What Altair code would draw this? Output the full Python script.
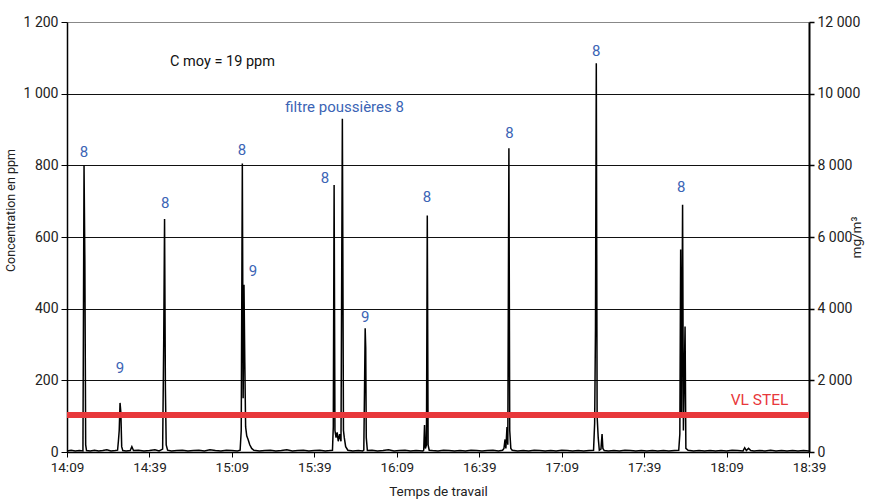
import altair as alt
import pandas as pd

# minutes after 14:09 and concentration in ppm
times = [
    0, 1.5, 3, 4.5, 5.8, 6.2, 6.5, 6.8, 7.1, 8.5, 10, 11.5, 13, 14.5, 16, 17.5,
    18.4, 18.7, 19.0, 19.3, 19.6, 19.9, 20.3, 21.5, 23, 23.6, 24.2, 26, 28, 30, 32, 33.5,
    34.8, 35.2, 35.5, 35.8, 36.1, 36.6, 38, 40, 42, 44, 46, 48, 50, 52, 54, 56, 58, 60, 62,
    63.0, 63.4, 63.8, 64.1, 64.4, 64.7, 65.0, 65.4, 65.9, 66.5, 67.2, 68, 70, 72, 74, 76, 78,
    80, 82, 84, 86, 88, 90, 92, 94, 95.5,
    96.6, 96.9, 97.2, 97.5, 97.9, 98.3, 98.7, 99.2, 99.7, 100.2, 100.6, 100.9, 101.4, 102.2,
    104, 106, 107.6,
    108.0, 108.3, 108.5, 108.7, 108.9, 109.3, 111, 113, 115, 117, 119, 121, 123, 125, 127, 129.5,
    129.8, 130.1, 130.4, 130.8, 131.1, 131.4, 131.8, 133, 135, 137, 139, 141, 143, 145, 147,
    149, 151, 153, 155, 157, 158.5,
    159.0, 159.4, 159.7, 160.1, 160.4, 160.8, 161.1, 161.5, 162, 164, 166, 168, 170, 172, 174,
    176, 178, 180, 182, 184, 186, 188, 190, 191.6,
    192.0, 192.3, 192.6, 192.9, 193.3, 193.7, 194.3, 194.7, 195.0, 195.5, 197, 199, 201, 203,
    205, 207, 209, 211, 213, 215, 217, 219, 221, 222.6,
    223.0, 223.3, 223.6, 224.0, 224.3, 224.9, 225.2, 226, 228, 230, 232, 234, 236, 238, 240,
    242, 244, 246, 246.6, 247.2, 248, 248.8, 250, 252, 254, 256, 258, 260, 262, 264, 266, 268, 270,
]
ppm = [
    3, 5, 3, 4, 3, 800, 530, 20, 4, 3, 5, 3, 4, 6, 3, 4,
    5, 30, 60, 137, 110, 15, 4, 3, 4, 15, 4, 5, 3, 4, 6, 3,
    8, 315, 650, 180, 20, 5, 3, 4, 5, 3, 4, 5, 3, 6, 4, 3, 5, 4, 3,
    5, 60, 805, 150, 467, 250, 70, 45, 35, 20, 10, 5, 3, 4, 5, 3, 4,
    6, 3, 4, 5, 3, 4, 5, 3, 4,
    5, 70, 745, 60, 40, 55, 30, 50, 30, 930, 60, 40, 15, 5,
    3, 4, 3,
    5, 200, 345, 290, 40, 4, 5, 3, 4, 6, 3, 4, 5, 3, 4, 3,
    5, 75, 10, 20, 660, 20, 5, 4, 3, 5, 4, 3, 4, 3, 5,
    4, 3, 4, 5, 3, 5,
    10, 35, 10, 70, 20, 848, 60, 10, 5, 3, 4, 3, 5, 4, 3,
    4, 3, 5, 4, 3, 4, 3, 4, 5,
    80, 340, 1085, 100, 40, 5, 8, 50, 10, 4, 3, 4, 3, 5,
    4, 3, 4, 3, 4, 3, 4, 3, 4, 5,
    50, 565, 100, 690, 60, 350, 10, 5, 3, 4, 3, 4, 3, 4, 3,
    5, 4, 3, 12, 4, 10, 4, 3, 4, 3, 5, 3, 4, 3, 4, 3, 4, 3,
]

label_text = ["8", "9", "8", "8", "9", "8", "filtre poussières 8", "9", "8", "8", "8", "8"]
label_x = [6.2, 19.3, 35.7, 63.7, 67.7, 93.9, 101.0, 108.5, 131.0, 161.0, 192.6, 223.5]
label_y = [837, 234, 695, 843, 505, 765, 963, 377, 712, 890, 1119, 740]

vl_stel = 103
right_ticks = [0, 2000, 4000, 6000, 8000, 10000, 12000]

FONT = "Roboto"
BLUE = "#3b64b5"
RED = "#e8383b"

series = pd.DataFrame({"t": times, "ppm": ppm})
labels = pd.DataFrame({"t": label_x, "y": label_y, "txt": label_text})

x_scale = alt.Scale(domain=[0, 270], nice=False, zero=False)
y_scale = alt.Scale(domain=[0, 1200], nice=False)

x_axis = alt.Axis(
    values=list(range(0, 271, 30)),
    labelExpr="floor((849 + datum.value) / 60) + ':' + format((849 + datum.value) % 60, '02d')",
    title="Temps de travail", titleFont=FONT, titleFontSize=13.5, titleFontWeight="normal",
    titleColor="#222", titlePadding=11,
    labelFont=FONT, labelFontSize=13.5, labelColor="#222", labelPadding=3,
    tickSize=5, tickColor="black", domainColor="black", domainWidth=1.5, grid=False,
    labelFlush=False,
)
y_axis = alt.Axis(
    values=list(range(0, 1201, 200)),
    labelExpr="replace(format(datum.value, ','), ',', ' ')",
    title="Concentration en ppm", titleFont=FONT, titleFontSize=12.5, titleFontWeight="normal",
    titleColor="#222", titlePadding=6, titleY=188,
    labelFont=FONT, labelFontSize=14, labelColor="#222", labelPadding=3,
    tickSize=6, tickColor="black", domainColor="black", domainWidth=1.5,
    grid=True, gridColor={"condition": {"test": "datum.value == 1200", "value": "#888888"}, "value": "#111111"},
    gridWidth=1.2,
)

line = alt.Chart(series).mark_line(color="black", strokeWidth=1.5).encode(
    x=alt.X("t:Q", scale=x_scale, axis=x_axis),
    y=alt.Y("ppm:Q", scale=y_scale, axis=y_axis),
)

red = alt.Chart(pd.DataFrame({"y": [vl_stel], "x1": [0], "x2": [270]})).mark_rule(
    color=RED, strokeWidth=6
).encode(x="x1:Q", x2="x2:Q", y="y:Q")

txt = alt.Chart(labels).mark_text(
    font=FONT, fontSize=15, color=BLUE, baseline="middle", align="center"
).encode(x="t:Q", y="y:Q", text="txt:N")

cmoy = alt.Chart(pd.DataFrame({"x": [37.5], "y": [1088], "s": ["C moy = 19 ppm"]})).mark_text(
    font=FONT, fontSize=14.5, color="#111", align="left", baseline="middle"
).encode(x="x:Q", y="y:Q", text="s:N")

vltxt = alt.Chart(pd.DataFrame({"x": [262.5], "y": [145], "s": ["VL STEL"]})).mark_text(
    font=FONT, fontSize=15.5, color=RED, align="right", baseline="middle"
).encode(x="x:Q", y="y:Q", text="s:N")

left = alt.layer(line, red, txt, cmoy, vltxt)

right = alt.Chart(pd.DataFrame({"t": [0, 270], "v": [0, 12000]})).mark_point(opacity=0).encode(
    x=alt.X("t:Q", scale=x_scale),
    y=alt.Y("v:Q", scale=alt.Scale(domain=[0, 12000], nice=False), axis=alt.Axis(
        orient="right", values=right_ticks,
        labelExpr="replace(format(datum.value, ','), ',', ' ')",
        title="mg/m³", titleFont=FONT, titleFontSize=13.5, titleFontWeight="normal",
        titleColor="#222", titleAngle=270, titlePadding=4,
        labelFont=FONT, labelFontSize=14, labelColor="#222", labelPadding=3,
        tickSize=5, tickColor="black", tickWidth=1.5, domainColor="black", domainWidth=2,
        grid=False,
    )),
)

chart = alt.layer(left, right).resolve_scale(y="independent").properties(
    width=742, height=430,
    autosize=alt.AutoSizeParams(type="none"),
    padding={"left": 67, "top": 22, "right": 63, "bottom": 48},
).configure_view(stroke=None).configure(background="white")

chart.save("out.html", embed_options={"renderer": "svg", "actions": False})
